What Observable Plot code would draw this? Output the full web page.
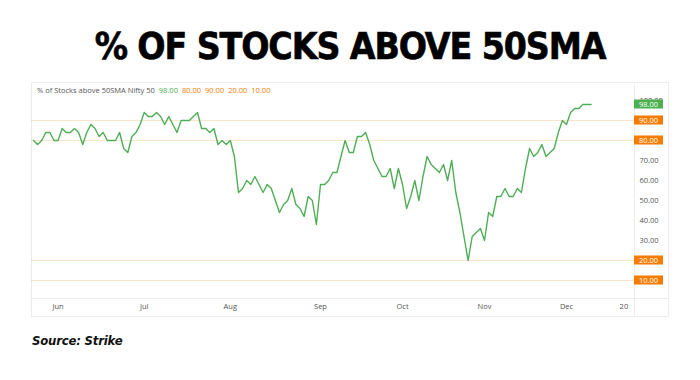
<!DOCTYPE html>
<html><head><meta charset="utf-8">
<script src="https://cdn.jsdelivr.net/npm/d3@7"></script>
<script src="https://cdn.jsdelivr.net/npm/@observablehq/plot@0.6"></script>
<style>
body{margin:0;background:#fff;width:700px;height:380px;position:relative;overflow:hidden}
#title{position:absolute;top:25px;left:0;width:700px;text-align:center;font-family:"DejaVu Sans Condensed","Liberation Sans Narrow",sans-serif;font-weight:bold;font-size:37px;line-height:44px;letter-spacing:-1.1px;color:#000;-webkit-text-stroke:0.6px #000}
#chart{position:absolute;top:80px;left:0}
#legend{position:absolute;top:85px;left:37px;font-family:"Open Sans",sans-serif;font-size:7.5px;color:#555;white-space:nowrap}
#legend span{margin-left:4px}
#source{position:absolute;top:333px;left:32px;font-family:"DejaVu Sans Condensed","Liberation Sans Narrow",sans-serif;font-weight:bold;font-style:italic;font-size:13px;letter-spacing:-0.2px;color:#111}
.ln{position:absolute;background:#ececec}
</style></head><body>
<div id="title">% OF STOCKS ABOVE 50SMA</div>
<div class="ln" style="left:31px;top:82px;width:637px;height:1px"></div>
<div class="ln" style="left:31px;top:316px;width:637px;height:1px"></div>
<div class="ln" style="left:31px;top:298px;width:637px;height:1px"></div>
<div class="ln" style="left:31px;top:82px;width:1px;height:234px"></div>
<div class="ln" style="left:634px;top:82px;width:1px;height:234px"></div>
<div class="ln" style="left:668px;top:82px;width:1px;height:234px"></div>
<div id="chart"></div>
<div id="legend"></div>
<div id="source">Source: Strike</div>
<script>
// % of Nifty 50 stocks above 50-day SMA, one value per trading session (late May – early Dec)
const values = [80,78,80,84,84,80,80,86,84,84,86,84,78,84,88,86,82,84,80,80,80,84,76,74,82,84,88,94,92,92,94,92,88,92,88,84,90,90,90,92,94,86,86,84,86,78,80,78,80,72,54,56,60,58,62,58,54,58,56,50,44,48,50,56,48,46,42,52,50,38,58,58,60,64,64,72,80,74,74,82,82,84,78,70,66,62,62,66,56,66,58,46,52,60,50,62,72,68,66,64,68,60,70,54,44,32,20,32,34,36,30,44,42,52,52,56,52,52,56,54,66,76,72,74,78,72,74,76,84,90,88,94,96,96,98,98,98];
const levels = [90, 80, 20, 10];
const priceTicks = [100, 70, 60, 50, 40, 30];
const badgeValues = [98, 90, 80, 20, 10];
const badgeColors = ["#4caf50", "#f57c00", "#f57c00", "#f57c00", "#f57c00"];
const legendValues = [98, 80, 90, 20, 10];
const legendColors = ["#4caf50", "#f57c00", "#f57c00", "#f57c00", "#f57c00"];
const monthIdx = [6, 27, 48, 70, 90, 110, 130, 144];
const monthLabels = ["Jun", "Jul", "Aug", "Sep", "Oct", "Nov", "Dec", "20"];
const seriesName = "% of Stocks above 50SMA Nifty 50";

const n = values.length;
const chart = Plot.plot({
  width: 700, height: 240,
  marginLeft: 31, marginRight: 66, marginTop: 20, marginBottom: 20,
  x: {domain: [0, n - 1], range: [33, 33 + (n - 1) * 4.1], axis: null},
  y: {domain: [0, 100], range: [220, 20], axis: null},
  style: {fontFamily: "'Open Sans', sans-serif", fontSize: "7.5px", background: "transparent", overflow: "visible"},
  marks: [
    Plot.ruleY(levels, {stroke: "#f57c00", strokeOpacity: 0.2, strokeWidth: 1}),
    Plot.line(values, {x: (d, i) => i, y: d => d, stroke: "#4fae55", strokeWidth: 1.4}),
    Plot.axisY({anchor: "right", ticks: priceTicks, tickSize: 0, tickPadding: 5, tickFormat: d => d.toFixed(2), fill: "#555", label: null}),
    Plot.text(monthIdx, {x: d => d, text: (d, i) => monthLabels[i], frameAnchor: "bottom", dy: 8, fill: "#555"})
  ]
});
document.getElementById("chart").appendChild(chart);

const ys = chart.scale("y");
const g = d3.select(chart).append("g");
badgeValues.forEach((v, i) => {
  const yy = ys.apply(v);
  g.append("rect").attr("x", 634).attr("y", yy - 4.5).attr("width", 29).attr("height", 9).attr("fill", badgeColors[i]);
  g.append("text").attr("x", 648.5).attr("y", yy).attr("text-anchor", "middle").attr("dominant-baseline", "central")
    .attr("fill", "#fff").attr("font-size", "7.5px").text(v.toFixed(2));
});

const lg = d3.select("#legend");
lg.append("span").style("margin-left", "0").text(seriesName);
legendValues.forEach((v, i) => lg.append("span").style("color", legendColors[i]).text(v.toFixed(2)));
</script>
</body></html>
